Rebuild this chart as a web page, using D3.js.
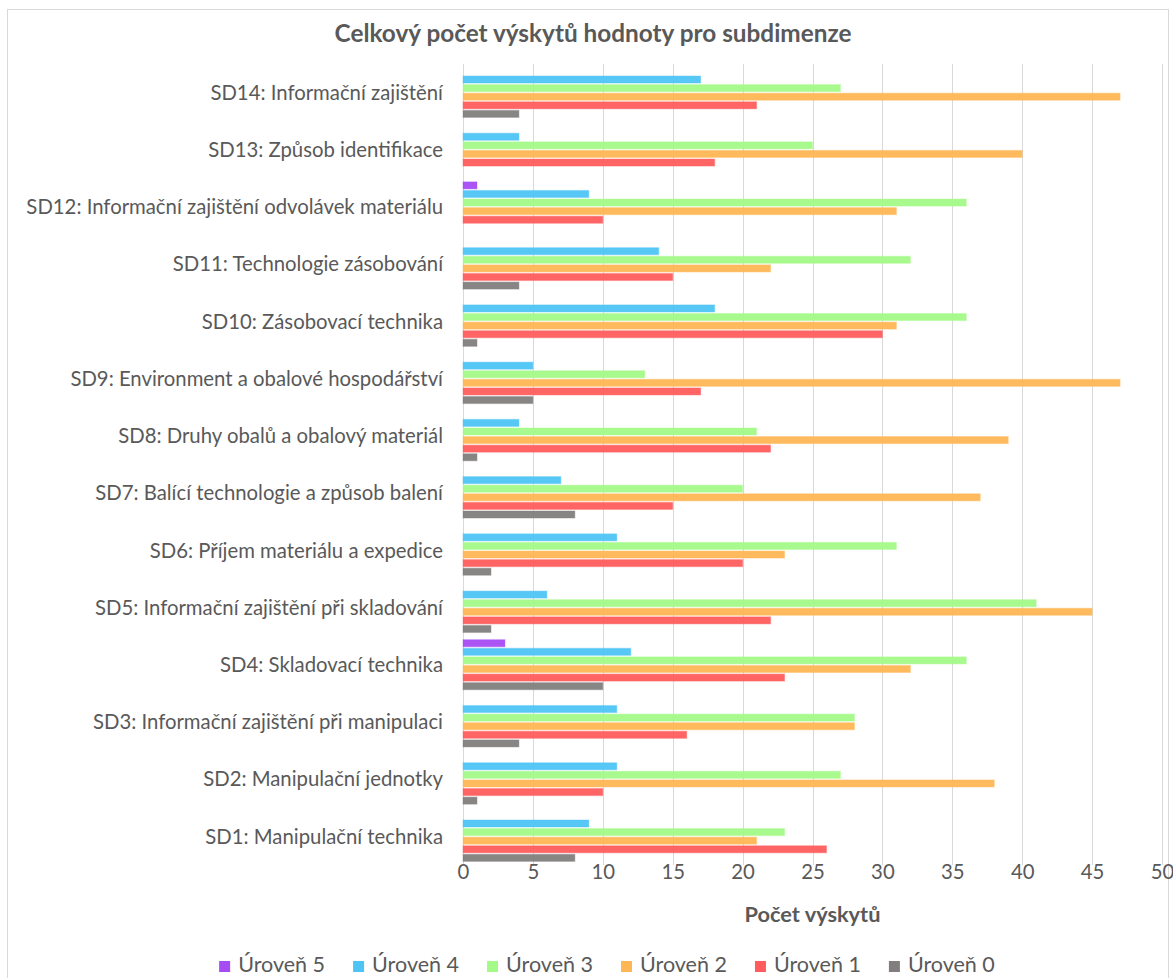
<!DOCTYPE html>
<html>
<head>
<meta charset="utf-8">
<script src="https://cdn.jsdelivr.net/npm/d3@7/dist/d3.min.js"></script>
<style>
  html, body { margin: 0; padding: 0; background: #ffffff; }
  svg { display: block; }
  text { font-family: Lato, "Open Sans", sans-serif; fill: #595959; }
</style>
</head>
<body>
<svg id="chart" width="1173" height="978"></svg>
<script>
// Subdimensions, listed top to bottom as drawn
const categories = [
  "SD14: Informační zajištění",
  "SD13: Způsob identifikace",
  "SD12: Informační zajištění odvolávek materiálu",
  "SD11: Technologie zásobování",
  "SD10: Zásobovací technika",
  "SD9: Environment a obalové hospodářství",
  "SD8: Druhy obalů a obalový materiál",
  "SD7: Balící technologie a způsob balení",
  "SD6: Příjem materiálu a expedice",
  "SD5: Informační zajištění při skladování",
  "SD4: Skladovací technika",
  "SD3: Informační zajištění při manipulaci",
  "SD2: Manipulační jednotky",
  "SD1: Manipulační technika"
];

// Counts per level, in the same order as the categories above
const level5 = [0, 0, 1, 0, 0, 0, 0, 0, 0, 0, 3, 0, 0, 0];
const level4 = [17, 4, 9, 14, 18, 5, 4, 7, 11, 6, 12, 11, 11, 9];
const level3 = [27, 25, 36, 32, 36, 13, 21, 20, 31, 41, 36, 28, 27, 23];
const level2 = [47, 40, 31, 22, 31, 47, 39, 37, 23, 45, 32, 28, 38, 21];
const level1 = [21, 18, 10, 15, 30, 17, 22, 15, 20, 22, 23, 16, 10, 26];
const level0 = [4, 0, 0, 4, 1, 5, 1, 8, 2, 2, 10, 4, 1, 8];

const seriesNames = ["Úroveň 5", "Úroveň 4", "Úroveň 3", "Úroveň 2", "Úroveň 1", "Úroveň 0"];
const seriesValues = [level5, level4, level3, level2, level1, level0];
const seriesColors = ["#a64cf4", "#4ec4f5", "#a4fa88", "#ffb655", "#ff5d5d", "#827e7e"];

const xTicks = [0, 5, 10, 15, 20, 25, 30, 35, 40, 45, 50];
const chartTitle = "Celkový počet výskytů hodnoty pro subdimenze";
const xTitle = "Počet výskytů";

const svg = d3.select("#chart");

// Outer chart border
svg.append("rect")
  .attr("x", 7.5).attr("y", 9.5)
  .attr("width", 1161).attr("height", 1000)
  .attr("fill", "none").attr("stroke", "#d9d9d9").attr("stroke-width", 1);

const plot = { left: 463, right: 1162, top: 63.8, bottom: 865 };

const x = d3.scaleLinear().domain([0, 50]).range([plot.left, plot.right]);
const y = d3.scaleBand().domain(categories).range([plot.top, plot.bottom])
  .paddingInner(0.127).paddingOuter(0.0635);
const ySeries = d3.scaleBand().domain(seriesNames).range([0, y.bandwidth()])
  .paddingInner(0.186).paddingOuter(0);

// Scale a font size so that a sample string spans a given width
function fitSize(sample, targetWidth, weight) {
  const t = svg.append("text").attr("font-size", 20).attr("font-weight", weight).text(sample);
  const w = t.node().getComputedTextLength();
  t.remove();
  return 20 * targetWidth / w;
}

const labelSize = fitSize("SD12: Informační zajištění odvolávek materiálu", 417, 400);
const titleSize = fitSize(chartTitle, 517, 700);
const axisTitleSize = fitSize(xTitle, 136, 700);
const legendSize = fitSize("Úroveň 5", 87, 400);

// Vertical gridlines
svg.append("g")
  .selectAll("line")
  .data(xTicks)
  .join("line")
  .attr("x1", d => Math.round(x(d)) + 0.5).attr("x2", d => Math.round(x(d)) + 0.5)
  .attr("y1", plot.top).attr("y2", plot.bottom)
  .attr("stroke", "#d9d9d9").attr("stroke-width", 1);

// Bars
const groups = svg.append("g")
  .selectAll("g")
  .data(categories)
  .join("g")
  .attr("transform", d => `translate(0,${y(d)})`);

groups.selectAll("rect")
  .data((c, ci) => seriesNames.map((s, si) => ({ s, si, v: seriesValues[si][ci] })).filter(d => d.v > 0))
  .join("rect")
  .attr("x", x(0))
  .attr("y", d => ySeries(d.s))
  .attr("width", d => x(d.v) - x(0))
  .attr("height", ySeries.bandwidth())
  .attr("fill", d => seriesColors[d.si])
  .attr("fill-opacity", 0.95)
  .attr("stroke", d => seriesColors[d.si])
  .attr("stroke-opacity", 0.35)
  .attr("stroke-width", 1.2);

// Category labels
svg.append("g")
  .selectAll("text")
  .data(categories)
  .join("text")
  .attr("x", 443)
  .attr("y", d => y(d) + y.bandwidth() / 2)
  .attr("dy", "0.36em")
  .attr("text-anchor", "end")
  .attr("font-size", labelSize)
  .text(d => d);

// X axis tick labels
const xAxis = svg.append("g")
  .attr("transform", `translate(0,${plot.bottom})`)
  .call(d3.axisBottom(x).tickValues(xTicks).tickSize(0).tickPadding(0));
xAxis.select(".domain").remove();
xAxis.selectAll("text")
  .attr("y", 7)
  .attr("dy", "0.36em")
  .attr("font-family", "Lato, 'Open Sans', sans-serif")
  .attr("font-size", labelSize)
  .attr("fill", "#595959");

// Titles
svg.append("text")
  .attr("x", 593).attr("y", 42)
  .attr("text-anchor", "middle")
  .attr("font-size", titleSize).attr("font-weight", 700)
  .text(chartTitle);

svg.append("text")
  .attr("x", (plot.left + plot.right) / 2).attr("y", 922)
  .attr("text-anchor", "middle")
  .attr("font-size", axisTitleSize).attr("font-weight", 700)
  .text(xTitle);

// Legend
const legend = svg.append("g");
let lx = 0;
seriesNames.forEach((name, i) => {
  const item = legend.append("g").attr("transform", `translate(${lx},0)`);
  item.append("rect")
    .attr("x", 0).attr("y", -11)
    .attr("width", 11).attr("height", 11)
    .attr("fill", seriesColors[i]);
  const t = item.append("text")
    .attr("x", 19).attr("y", 0)
    .attr("font-size", legendSize)
    .text(name);
  lx += 19 + t.node().getComputedTextLength() + 28;
});
const legendWidth = lx - 28;
legend.attr("transform", `translate(${607 - legendWidth / 2},972)`);
</script>
</body>
</html>
